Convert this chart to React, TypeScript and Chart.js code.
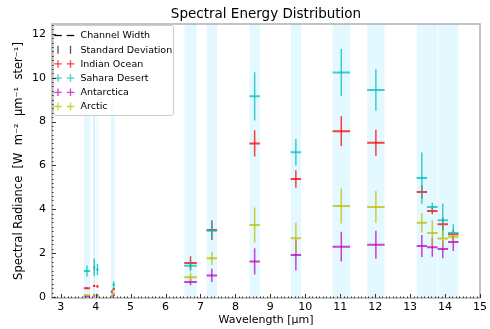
import React, { useEffect, useRef } from "react";
import { Chart, registerables } from "chart.js";

Chart.register(...registerables);

// MODIS thermal channels (band limits and centres, micrometres)
const bandLo = [3.66, 3.929, 3.929, 4.02, 4.433, 4.482, 6.535, 7.175, 8.4, 9.58, 10.78, 11.77, 13.185, 13.485, 13.785, 14.085];
const bandHi = [3.84, 3.989, 3.989, 4.08, 4.498, 4.549, 6.895, 7.475, 8.7, 9.88, 11.28, 12.27, 13.485, 13.785, 14.085, 14.385];
const bandCenter = [3.75, 3.959, 3.959, 4.05, 4.466, 4.516, 6.715, 7.325, 8.55, 9.73, 11.03, 12.02, 13.335, 13.635, 13.935, 14.235];

const chartTitle = "Spectral Energy Distribution";
const regionNames = ["Indian Ocean", "Sahara Desert", "Antarctica", "Arctic"];
const regionColors = ["rgba(255,0,0,0.75)", "rgba(0,191,191,0.75)", "rgba(191,0,191,0.75)", "rgba(191,191,0,0.75)"];

const indianOcean = [0.4, 0.5, 0.5, 0.48, 0.25, 0.35, 1.55, 3.05, 7.0, 5.38, 7.56, 7.03, 4.79, 3.92, 3.32, 2.86];
const indianOceanStd = [0.04, 0.05, 0.05, 0.05, 0.03, 0.04, 0.3, 0.45, 0.6, 0.4, 0.68, 0.6, 0.3, 0.15, 0.3, 0.2];
const saharaDesert = [1.18, 1.35, 1.3, 1.25, 0.2, 0.55, 1.42, 3.02, 9.15, 6.6, 10.24, 9.44, 5.42, 4.1, 3.5, 2.92];
const saharaDesertStd = [0.25, 0.4, 0.35, 0.25, 0.05, 0.15, 0.25, 0.4, 1.1, 0.6, 1.07, 0.95, 1.17, 0.2, 0.76, 0.4];
const antarctica = [0.03, 0.05, 0.05, 0.05, 0.03, 0.08, 0.68, 0.98, 1.62, 1.91, 2.29, 2.38, 2.32, 2.26, 2.18, 2.51];
const antarcticaStd = [0.01, 0.02, 0.02, 0.02, 0.01, 0.02, 0.15, 0.3, 0.6, 0.7, 0.68, 0.64, 0.5, 0.43, 0.42, 0.42];
const arctic = [0.08, 0.1, 0.1, 0.1, 0.05, 0.15, 0.9, 1.76, 3.28, 2.68, 4.15, 4.1, 3.38, 2.92, 2.67, 2.74];
const arcticStd = [0.03, 0.03, 0.03, 0.03, 0.02, 0.04, 0.2, 0.3, 0.8, 0.7, 0.8, 0.73, 0.45, 0.57, 0.38, 0.2];

const regionValues = [indianOcean, saharaDesert, antarctica, arctic];
const regionStds = [indianOceanStd, saharaDesertStd, antarcticaStd, arcticStd];

const xTicks = [3, 4, 5, 6, 7, 8, 9, 10, 11, 12, 13, 14, 15];
const yTicks = [0, 2, 4, 6, 8, 10, 12];

const X_MIN = 2.75;
const X_MAX = 15;
const Y_MIN = -0.05;
const Y_MAX = 12.45;

const FONT = "'DejaVu Sans', sans-serif";

function widthSegments(values: number[]) {
  const out: any[] = [];
  values.forEach((v, i) => {
    out.push({ x: bandLo[i], y: v }, { x: bandHi[i], y: v }, { x: bandHi[i], y: null });
  });
  return out;
}

function stdSegments(values: number[], stds: number[]) {
  const out: any[] = [];
  values.forEach((v, i) => {
    out.push({ x: bandCenter[i], y: v - stds[i] }, { x: bandCenter[i], y: v + stds[i] }, { x: bandCenter[i], y: null });
  });
  return out;
}

const decorPlugin = {
  id: "decor",
  afterDraw(chart: any) {
    const { ctx, chartArea: a, scales } = chart;
    const xs = scales.x;
    const ys = scales.y;
    ctx.save();
    // title centred over the plot area
    ctx.fillStyle = "#000";
    ctx.font = `13.5px ${FONT}`;
    ctx.textAlign = "center";
    ctx.textBaseline = "middle";
    ctx.fillText(chartTitle, (a.left + a.right) / 2, 14);

    // legend
    const lx = a.left + 1.5;
    const ly = a.top + 1.5;
    const lw = 120;
    const lh = 90;
    ctx.fillStyle = "rgba(255,255,255,0.85)";
    ctx.strokeStyle = "#cccccc";
    ctx.lineWidth = 1;
    ctx.beginPath();
    (ctx as any).roundRect(lx, ly, lw, lh, 2);
    ctx.fill();
    ctx.stroke();
    const labels = ["Channel Width", "Standard Deviation", ...regionNames];
    ctx.font = `9.5px ${FONT}`;
    ctx.textBaseline = "middle";
    ctx.textAlign = "left";
    labels.forEach((lab, i) => {
      const cy = ly + 10 + i * 14.2;
      [lx + 4.5, lx + 17].forEach((mx) => {
        ctx.beginPath();
        if (i === 0) {
          ctx.strokeStyle = "#000";
          ctx.lineWidth = 1.3;
          ctx.moveTo(mx - 3.75, cy);
          ctx.lineTo(mx + 3.75, cy);
        } else if (i === 1) {
          ctx.strokeStyle = "#555";
          ctx.lineWidth = 1.3;
          ctx.moveTo(mx, cy - 4);
          ctx.lineTo(mx, cy + 4);
        } else {
          ctx.strokeStyle = regionColors[i - 2];
          ctx.lineWidth = 1.3;
          ctx.moveTo(mx - 3.75, cy);
          ctx.lineTo(mx + 3.75, cy);
          ctx.moveTo(mx, cy - 3.75);
          ctx.lineTo(mx, cy + 3.75);
        }
        ctx.stroke();
      });
      ctx.fillStyle = "#000";
      ctx.fillText(lab, lx + 27, cy + 0.5);
    });

    // frame
    ctx.strokeStyle = "#b0b0b0";
    ctx.lineWidth = 1.5;
    ctx.strokeRect(a.left, a.top, a.right - a.left, a.bottom - a.top);
    // ticks (inward)
    ctx.strokeStyle = "#333";
    ctx.lineWidth = 1;
    ctx.beginPath();
    for (let k = Math.ceil(X_MIN * 10); k <= X_MAX * 10; k++) {
      const v = k / 10;
      const px = Math.round(xs.getPixelForValue(v)) + 0.5;
      const len = k % 10 === 0 ? 4 : 1.5;
      ctx.moveTo(px, a.bottom);
      ctx.lineTo(px, a.bottom - len);
    }
    for (let k = 0; k <= Y_MAX * 5; k++) {
      const v = k / 5;
      const py = Math.round(ys.getPixelForValue(v)) + 0.5;
      const len = k % 10 === 0 ? 4 : 1.5;
      ctx.moveTo(a.left, py);
      ctx.lineTo(a.left + len, py);
    }
    ctx.stroke();
    ctx.restore();
  },
};

export default function App() {
  const ref = useRef<HTMLCanvasElement | null>(null);

  useEffect(() => {
    if (!ref.current) return;
    const datasets: any[] = [];
    bandLo.forEach((lo, i) => {
      datasets.push({
        label: "band" + i,
        data: [
          { x: lo, y: Y_MAX },
          { x: bandHi[i], y: Y_MAX },
        ],
        showLine: true,
        fill: "start",
        backgroundColor: "rgba(0,191,255,0.11)",
        borderColor: "rgba(0,0,0,0)",
        borderWidth: 1,
        pointRadius: 0,
        order: 100,
      });
    });
    regionNames.forEach((name, r) => {
      datasets.push({
        label: name + " width",
        data: widthSegments(regionValues[r]),
        showLine: true,
        spanGaps: false,
        borderColor: regionColors[r],
        borderWidth: 2,
        pointRadius: 0,
        fill: false,
        order: 10 - r,
      });
      datasets.push({
        label: name + " std",
        data: stdSegments(regionValues[r], regionStds[r]),
        showLine: true,
        spanGaps: false,
        borderColor: regionColors[r],
        borderWidth: 1.5,
        pointRadius: 0,
        fill: false,
        order: 10 - r,
      });
    });

    const chart = new Chart(ref.current, {
      type: "scatter",
      data: { datasets },
      options: {
        responsive: false,
        animation: false,
        devicePixelRatio: 1,
        layout: { padding: { left: 0, right: 7, top: 24, bottom: 0 } },
        plugins: {
          legend: { display: false },
          tooltip: { enabled: false },
          title: { display: false },
        },
        scales: {
          x: {
            type: "linear",
            min: X_MIN,
            max: X_MAX,
            afterFit: (s: any) => {
              s.height = 31;
            },
            afterBuildTicks: (s: any) => {
              s.ticks = xTicks.map((v) => ({ value: v }));
            },
            ticks: {
              color: "#000",
              font: { family: FONT, size: 11 },
              padding: 3,
              maxRotation: 0,
              autoSkip: false,
            },
            grid: { drawOnChartArea: false, drawTicks: false },
            border: { display: false },
            title: {
              display: true,
              text: "Wavelength [μm]",
              color: "#000",
              font: { family: FONT, size: 11 },
              padding: { top: 0, bottom: 2 },
            },
          },
          y: {
            type: "linear",
            min: Y_MIN,
            max: Y_MAX,
            afterFit: (s: any) => {
              s.width = 52;
            },
            afterBuildTicks: (s: any) => {
              s.ticks = yTicks.map((v) => ({ value: v }));
            },
            ticks: {
              color: "#000",
              font: { family: FONT, size: 11 },
              padding: 6,
              autoSkip: false,
            },
            grid: { drawOnChartArea: false, drawTicks: false },
            border: { display: false },
            title: {
              display: true,
              text: "Spectral Radiance  [W  m⁻²  μm⁻¹  ster⁻¹]",
              color: "#000",
              font: { family: FONT, size: 11.5 },
              padding: { top: 12, bottom: 0 },
            },
          },
        },
      },
      plugins: [decorPlugin],
    } as any);
    return () => chart.destroy();
  }, []);

  return (
    <div style={{ position: "fixed", left: 0, top: 0, width: 490, height: 329, background: "#fff" }}>
      <canvas ref={ref} width={490} height={329} style={{ width: 490, height: 329 }} />
    </div>
  );
}
